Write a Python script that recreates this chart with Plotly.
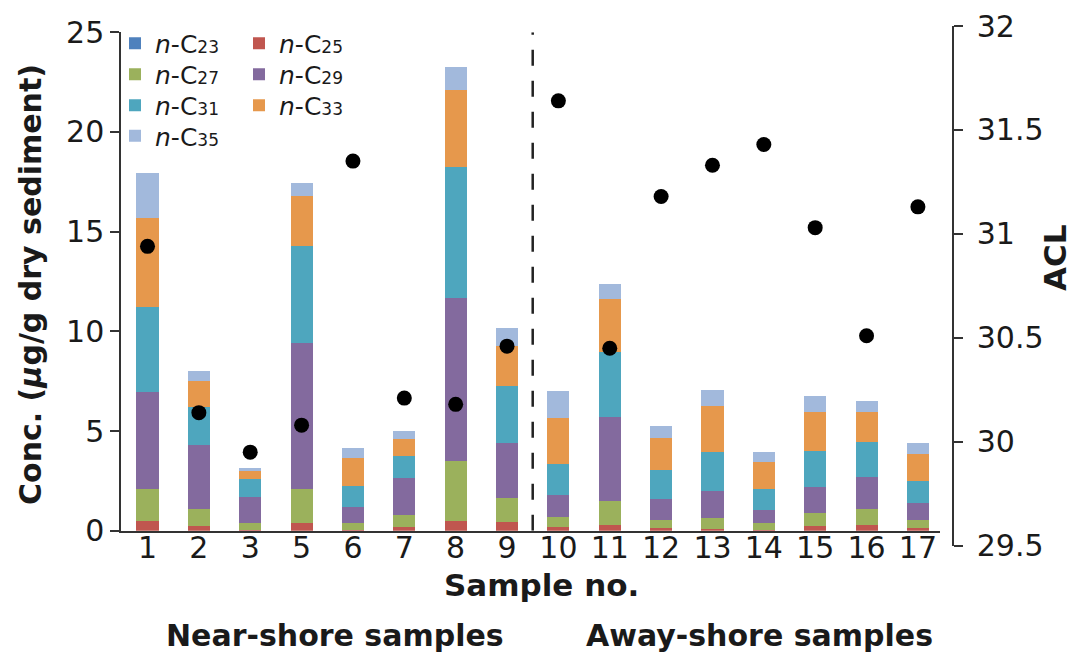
import plotly.graph_objects as go

# Sample numbers (sample 4 was not analysed)
samples = ["1", "2", "3", "5", "6", "7", "8", "9",
           "10", "11", "12", "13", "14", "15", "16", "17"]

# n-alkane concentrations (µg/g dry sediment) per chain length
c23 = [0.0, 0.0, 0.0, 0.0, 0.0, 0.0, 0.0, 0.0,
       0.0, 0.0, 0.0, 0.0, 0.0, 0.0, 0.0, 0.0]
c25 = [0.50, 0.25, 0.05, 0.39, 0.03, 0.17, 0.47, 0.45,
       0.18, 0.30, 0.12, 0.10, 0.03, 0.24, 0.29, 0.15]
c27 = [1.57, 0.84, 0.34, 1.68, 0.36, 0.60, 3.01, 1.21,
       0.51, 1.21, 0.43, 0.54, 0.34, 0.63, 0.80, 0.39]
c29 = [4.89, 3.23, 1.28, 7.33, 0.80, 1.86, 8.17, 2.72,
       1.12, 4.18, 1.06, 1.37, 0.68, 1.31, 1.58, 0.86]
c31 = [4.25, 1.89, 0.94, 4.89, 1.07, 1.12, 6.57, 2.90,
       1.55, 3.28, 1.45, 1.92, 1.04, 1.83, 1.79, 1.09]
c33 = [4.49, 1.29, 0.37, 2.51, 1.37, 0.85, 3.87, 1.97,
       2.30, 2.63, 1.59, 2.35, 1.34, 1.96, 1.51, 1.34]
c35 = [2.26, 0.50, 0.17, 0.65, 0.50, 0.39, 1.17, 0.92,
       1.37, 0.78, 0.61, 0.80, 0.53, 0.78, 0.55, 0.55]

# Average chain length
acl = [30.94, 30.14, 29.95, 30.08, 31.35, 30.21, 30.18, 30.46,
       31.64, 30.45, 31.18, 31.33, 31.43, 31.03, 30.51, 31.13]

conc_ticks = [0, 5, 10, 15, 20, 25]
acl_ticks = [29.5, 30, 30.5, 31, 31.5, 32]

# chain length, values, colour, legend row (two entries per row)
series = [
    ("23", c23, "#4F81BD", "legend"),
    ("25", c25, "#C0564F", "legend"),
    ("27", c27, "#9BB15C", "legend2"),
    ("29", c29, "#836A9E", "legend2"),
    ("31", c31, "#4EA6BE", "legend3"),
    ("33", c33, "#E6984C", "legend3"),
    ("35", c35, "#A2B9DC", "legend4"),
]

# page geometry helpers (pixels -> paper fractions)
W, H = 1072, 653
ML, MR, MT, MB = 121, 100, 20, 100


def px_x(p):
    return (p - ML) / (W - ML - MR)


def px_y(p):
    return (H - MB - p) / (H - MT - MB)


FONT = "DejaVu Sans"
INK = "#1a1a1a"
AXIS = "#333333"

fig = go.Figure()

for name, vals, color, leg in series:
    fig.add_trace(go.Bar(
        x=samples, y=vals,
        name=f'<i>n</i>-C<span style="font-size:17px">{name}</span>',
        marker=dict(color=color, line=dict(width=0)),
        width=0.43, legend=leg,
    ))

fig.add_trace(go.Scatter(
    x=samples, y=acl, mode="markers", yaxis="y2", showlegend=False,
    marker=dict(color="black", size=15),
))


def label(text, x, y, size=30, angle=0):
    return dict(text=text, textangle=angle, x=px_x(x), y=px_y(y),
                xref="paper", yref="paper", xanchor="center",
                yanchor="middle", showarrow=False,
                font=dict(size=size, family=FONT, color=INK))


def legend_row(y):
    return dict(
        x=px_x(115), y=px_y(y), xanchor="left", yanchor="middle",
        orientation="h", entrywidth=79, entrywidthmode="pixels",
        bgcolor="rgba(0,0,0,0)",
        font=dict(size=25, family=FONT, color=INK),
        traceorder="normal", itemclick=False,
    )


fig.update_layout(
    width=W, height=H,
    margin=dict(l=ML, r=MR, t=MT, b=MB, autoexpand=False),
    paper_bgcolor="white", plot_bgcolor="rgba(0,0,0,0)",
    barmode="stack",
    font=dict(family=FONT, color=INK, size=30),
    xaxis=dict(
        type="category", domain=[0, px_x(940)],
        range=[-0.516, 15.43],
        showline=True, linecolor=AXIS, linewidth=1.5,
        ticks="", showgrid=False, zeroline=False,
        ticklabelstandoff=-10,
        tickfont=dict(size=30, family=FONT, color=INK),
        anchor="y",
    ),
    yaxis=dict(
        domain=[px_y(530.7), px_y(32.3)],
        range=[0, 25], tickvals=conc_ticks,
        showline=True, linecolor=AXIS, linewidth=1.5,
        ticks="outside", ticklen=9, tickcolor=AXIS, tickwidth=1.5,
        showgrid=False, zeroline=False,
        tickfont=dict(size=30, family=FONT, color=INK),
        anchor="x",
    ),
    yaxis2=dict(
        domain=[px_y(545.7), px_y(26)],
        range=[29.5, 32], tickvals=acl_ticks,
        side="right", anchor="free", position=px_x(953),
        showline=True, linecolor=AXIS, linewidth=1.5,
        ticks="outside", ticklen=9, tickcolor=AXIS, tickwidth=1.5,
        ticklabelstandoff=8,
        showgrid=False, zeroline=False,
        tickfont=dict(size=30, family=FONT, color=INK),
    ),
    legend=legend_row(43.5),
    legend2=legend_row(74.5),
    legend3=legend_row(105.5),
    legend4=legend_row(136),
    shapes=[dict(
        type="line", xref="x", yref="y", x0=7.5, x1=7.5, y0=0, y1=25,
        line=dict(color="#222222", width=2.5, dash="16px,15px"),
    )],
    annotations=[
        label("<b>Conc. (<i>μ</i>g/g dry sediment)</b>", 30, 285, 30, -90),
        label("<b>ACL</b>", 1055, 258, 31, -90),
        label("<b>Sample no.</b>", 541, 585, 31),
        label("<b>Near-shore samples</b>", 335, 635),
        label("<b>Away-shore samples</b>", 759, 635),
    ],
)

fig.write_html("out.html")
